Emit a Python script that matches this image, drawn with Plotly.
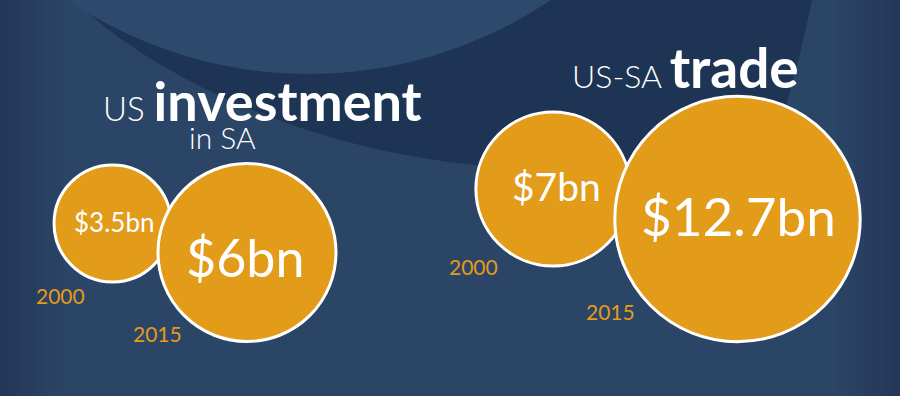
import plotly.graph_objects as go

# ---- data ----
years = ["2000", "2015"]
investment_bn = [3.5, 6]
trade_bn = [7, 12.7]
titles = {
    "investment": ("US", "investment", "in SA"),
    "trade": ("US-SA", "trade"),
}

# ---- layout constants (pixels on a 900x396 canvas) ----
W, H = 900, 396
BASE = "#2b4567"
DARK = "#1e3454"
LIGHT = "#2d496b"
ORANGE = "#e39b1a"
FONT = "Lato"

inv_centers = [(112.5, 223.5), (247, 252.5)]
trade_centers = [(553, 189), (737.5, 219)]
inv_scale, trade_scale, expo = 44.0, 33.8, 0.78
inv_label_pos = [(114, 222), (245, 257)]
trade_label_pos = [(556, 186), (738, 215)]
inv_label_size = [26, 52]
trade_label_size = [39, 53]
inv_year_pos = [(60, 295), (157, 333)]
trade_year_pos = [(473, 266), (610, 311)]

fig = go.Figure()

shapes = []
# vignette strips at the left / right edges
for k in range(1, 8):
    shapes.append(dict(type="rect", x0=0, x1=9 * k, y0=0, y1=H, line_width=0,
                       fillcolor="#0f2040", opacity=0.035, layer="below"))
    shapes.append(dict(type="rect", x0=W - 9 * k, x1=W, y0=0, y1=H, line_width=0,
                       fillcolor="#0f2040", opacity=0.035, layer="below"))
# dark swoosh
shapes.append(dict(type="path", layer="below", line_width=0, fillcolor=DARK,
                   path="M 87 12 C 170 85 330 160 520 168 L 700 170 L 785 110 "
                        "C 796 70 806 30 812 0 L 87 0 Z"))
# lighter disc that cuts the swoosh
shapes.append(dict(type="circle", layer="below", line_width=0, fillcolor=LIGHT,
                   x0=309 - 432, x1=309 + 432, y0=-358 - 432, y1=-358 + 432))

def add_panel(values, centers, scale, label_pos, label_size, year_pos):
    sizes = [scale * v ** expo for v in values]
    for i, v in enumerate(values):
        fig.add_trace(go.Scatter(
            x=[centers[i][0]], y=[centers[i][1]], mode="markers",
            marker=dict(size=sizes[i], sizemode="diameter", color=ORANGE,
                        line=dict(color="white", width=3), opacity=1),
            hoverinfo="skip", showlegend=False))
    for i, v in enumerate(values):
        fig.add_annotation(x=label_pos[i][0], y=label_pos[i][1], text=f"${v:g}bn",
                           showarrow=False, xanchor="center", yanchor="middle",
                           font=dict(family=FONT, size=label_size[i], color="white"))
        fig.add_annotation(x=year_pos[i][0], y=year_pos[i][1], text=years[i],
                           showarrow=False, xanchor="center", yanchor="middle",
                           font=dict(family=FONT, size=21, color=ORANGE))

add_panel(investment_bn, inv_centers, inv_scale, inv_label_pos, inv_label_size, inv_year_pos)
add_panel(trade_bn, trade_centers, trade_scale, trade_label_pos, trade_label_size, trade_year_pos)

t1 = titles["investment"]
fig.add_annotation(x=262, y=100, xanchor="center", yanchor="middle", showarrow=False,
                   text=f"{t1[0]} <span style='font-size:54px;font-weight:700'>{t1[1]}</span>",
                   font=dict(family=FONT, size=33, color="white", weight=300))
fig.add_annotation(x=222, y=137, xanchor="center", yanchor="middle", showarrow=False,
                   text=t1[2], font=dict(family=FONT, size=30, color="white", weight=300))
t2 = titles["trade"]
fig.add_annotation(x=685, y=67, xanchor="center", yanchor="middle", showarrow=False,
                   text=f"{t2[0]} <span style='font-size:55px;font-weight:700'>{t2[1]}</span>",
                   font=dict(family=FONT, size=32, color="white", weight=300))

fig.update_layout(
    width=W, height=H, margin=dict(l=0, r=0, t=0, b=0),
    paper_bgcolor=BASE, plot_bgcolor=BASE, shapes=shapes, showlegend=False,
    xaxis=dict(range=[0, W], visible=False, fixedrange=True),
    yaxis=dict(range=[H, 0], visible=False, fixedrange=True),
)

fig.write_html("out.html", config={"displayModeBar": False},
               post_script="document.body.style.margin='0';document.body.style.background='" + BASE + "';")
